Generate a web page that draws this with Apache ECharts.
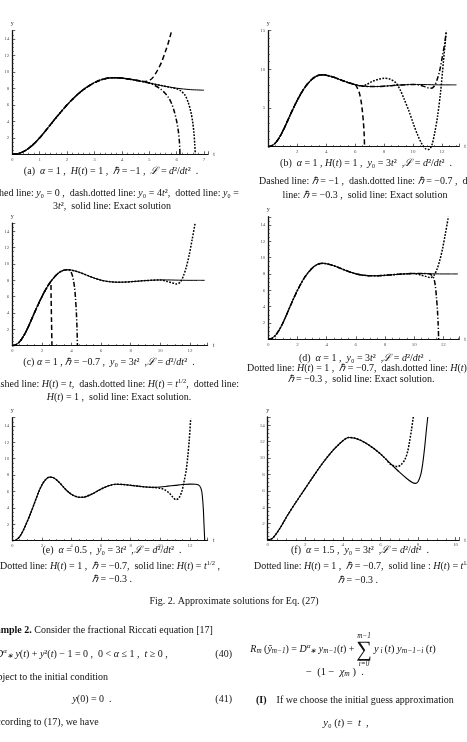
<!DOCTYPE html>
<html><head><meta charset="utf-8">
<script src="https://cdn.jsdelivr.net/npm/echarts@6/dist/echarts.min.js"></script>
<style>html,body{margin:0;padding:0;background:#fff;}#c{width:467px;height:742px;}</style>
</head><body><div id="c"></div>
<script>
// ---- data (t, y) ----
const exact1 = [[0,0],[0.25,0.12],[0.5,0.5],[0.75,1.15],[1,2.0],[1.25,3.0],[1.5,4.05],[1.75,5.05],[2,6.0],[2.25,6.85],[2.5,7.6],[2.75,8.2],[3,8.7],[3.25,9.05],[3.5,9.25],[3.75,9.3],[4,9.25],[4.5,9.0],[5,8.65],[5.5,8.3],[6,8.02],[6.5,7.85],[7,7.78],[7.5,7.78],[8,7.83],[8.5,7.9],[9,7.97],[9.5,8.02],[10,8.05],[10.5,8.05],[11,8.03],[11.5,8.01],[12,8.0],[12.5,8.0],[13,8.0]];
// panel (a)
const aDashedTail = [[4.8,8.85],[5.0,8.95],[5.15,9.4],[5.3,10.2],[5.45,11.2],[5.58,12.4],[5.7,13.6],[5.8,14.8]];
const aDashDotTail = [[5.2,8.35],[5.4,7.95],[5.55,7.5],[5.7,6.9],[5.82,6.1],[5.92,5.1],[6.0,4.0],[6.06,2.8],[6.1,1.5],[6.12,0]];
const aDottedTail = [[5.8,8.1],[6.0,7.95],[6.15,7.7],[6.3,7.2],[6.42,6.3],[6.52,5.1],[6.58,4.0],[6.63,2.6],[6.66,1.2],[6.68,0]];
// panel (b)
const bDashedTail = [[6.15,7.6],[6.3,6.9],[6.42,5.8],[6.5,4.6],[6.57,3.2],[6.62,1.8],[6.65,0]];
const bDottedTail = [[6.8,8.05],[7.2,8.45],[7.6,8.72],[8.0,8.85],[8.4,8.75],[8.8,8.3],[9.1,7.4],[9.4,6.1],[9.7,4.7],[10.0,3.1],[10.3,1.6],[10.6,0.4],[10.9,-0.3],[11.1,-0.35],[11.3,0.2],[11.5,1.8],[11.7,4.0],[11.9,7.0],[12.1,11.0],[12.3,15]];
const bDashDotTail = [[10.5,7.95],[10.9,7.7],[11.2,7.55],[11.45,7.8],[11.65,8.6],[11.85,9.9],[12.05,11.9],[12.2,13.5],[12.3,15]];
// panel (c)
const cDashedTail = [[2.6,7.85],[2.62,6.0],[2.65,3.0],[2.68,0]];
const cDashDotTail = [[3.9,9.15],[4.0,8.9],[4.1,8.3],[4.2,7.2],[4.27,5.8],[4.33,4.0],[4.37,2.2],[4.4,0]];
const cDottedTail = [[10.5,7.85],[10.8,7.7],[11.1,7.55],[11.35,7.8],[11.55,8.5],[11.75,9.6],[11.95,11.1],[12.15,13.0],[12.35,15]];
// panel (d)
const dDashDotTail = [[11.2,7.85],[11.35,7.45],[11.45,6.6],[11.53,5.2],[11.6,3.5],[11.65,1.8],[11.68,0]];
// panel (e)
const eSolid = [[0,0],[0.25,0.1],[0.5,0.5],[0.75,1.3],[1,2.3],[1.25,3.4],[1.5,4.6],[1.75,5.8],[2,6.8],[2.25,7.45],[2.5,7.75],[2.75,7.7],[3,7.4],[3.25,6.95],[3.5,6.45],[3.75,6.0],[4,5.65],[4.25,5.42],[4.5,5.3],[4.75,5.3],[5,5.4],[5.5,5.8],[6,6.3],[6.5,6.7],[7,6.88],[7.5,6.85],[8,6.75],[8.5,6.65],[9,6.55],[9.5,6.5],[10,6.55],[10.5,6.65],[11,6.75],[11.5,6.85],[12,6.9],[12.4,6.88],[12.65,6.7],[12.8,6.0],[12.9,4.0],[12.95,2.0],[13,0]];
const eDottedTail = [[10.0,6.4],[10.3,6.2],[10.6,5.8],[10.85,5.3],[11.05,5.0],[11.25,5.2],[11.45,6.0],[11.6,7.2],[11.75,8.6],[11.85,10.2],[11.95,12.2],[12.05,14.9]];
// panel (f)
const fSolid = [[0,0],[0.25,0.2],[0.5,0.9],[0.75,1.8],[1,2.8],[1.5,4.6],[2,6.3],[2.5,8.0],[3,9.6],[3.5,11.0],[4,12.1],[4.3,12.5],[4.6,12.45],[5,12.1],[5.5,11.4],[6,10.5],[6.5,9.4],[7,8.3],[7.4,7.5],[7.7,7.0],[7.85,6.9],[8,7.1],[8.15,8.0],[8.25,9.3],[8.35,11.2],[8.45,13.5],[8.52,15]];
const fDottedTail = [[6.3,9.85],[6.5,9.3],[6.7,9.05],[6.9,8.95],[7.1,9.2],[7.3,9.8],[7.45,10.8],[7.55,12.0],[7.65,13.4],[7.75,15]];

function head(arr, tmax){ return arr.filter(p => p[0] <= tmax); }

// ---- layout ----
const grids = [
  {left:12.3, top:30.7, width:195.9, height:123.6},
  {left:268.3, top:30.75, width:195.4, height:115.95},
  {left:12.3, top:223.15, width:195.4, height:122.55},
  {left:268.3, top:216.75, width:192.6, height:122.55},
  {left:12.3, top:417.7, width:195.4, height:123},
  {left:267.7, top:417, width:196.9, height:123}
];
const xCfg = [ {max:7.15, iv:1, lastLab:7, split:5, show0:true},
               {max:13.2, iv:2, lastLab:12, split:4, show0:false},
               {max:13.2, iv:2, lastLab:12, split:4, show0:true},
               {max:13.1, iv:2, lastLab:12, split:4, show0:true},
               {max:13.2, iv:2, lastLab:12, split:4, show0:true},
               {max:10.2, iv:2, lastLab:10, split:4, show0:true} ];
const yCfg = [ {iv:2, lastLab:14, split:4}, {iv:5, lastLab:15, split:5}, {iv:2, lastLab:14, split:4},
               {iv:2, lastLab:14, split:4}, {iv:2, lastLab:14, split:4}, {iv:2, lastLab:14, split:4} ];

const labFont = {fontSize:5, fontFamily:'Liberation Serif', color:'#555'};
const axLine = {show:true, onZero:false, lineStyle:{color:'#111', width:1}};

const xAxes = xCfg.map((c,i) => ({
  type:'value', gridIndex:i, min:0, max:c.max, interval:c.iv,
  axisLine:axLine, splitLine:{show:false},
  axisTick:{show:true, inside:true, length:3, lineStyle:{color:'#222', width:0.7}},
  minorTick:{show:true, splitNumber:c.split, length:1.6, lineStyle:{color:'#222', width:0.6}},
  axisLabel:{...labFont, margin:2.5, showMaxLabel:true,
    formatter: v => { if (Math.abs(v/c.iv - Math.round(v/c.iv))>1e-6 || v>c.lastLab+1e-6) return ''; if (v===0 && !c.show0) return ''; return String(v); }},
  name:'t', nameLocation:'end', nameGap:5, nameTextStyle:{fontSize:6, fontFamily:'Liberation Serif', color:'#333'}
}));
const yAxes = yCfg.map((c,i) => ({
  type:'value', gridIndex:i, min:0, max:15, interval:c.iv,
  axisLine:{show:true, onZero:false, lineStyle:{color:'#111', width:1.3}}, splitLine:{show:false},
  axisTick:{show:true, inside:true, length:3, lineStyle:{color:'#222', width:0.7}},
  minorTick:{show:true, splitNumber:c.split, length:1.6, lineStyle:{color:'#222', width:0.6}},
  axisLabel:{...labFont, margin:3,
    formatter: v => { if (v===0 || Math.abs(v/c.iv - Math.round(v/c.iv))>1e-6 || v>c.lastLab+1e-6) return ''; return String(v); }},
  name:'y', nameLocation:'end', nameGap:4, nameTextStyle:{fontSize:6, fontFamily:'Liberation Serif', color:'#333'}
}));

const DASH=[5,3], DASHDOT=[5,2,1.2,2], DOT=[1.8,1.4];
function ln(data, gi, dash, width, clip){
  return {type:'line', xAxisIndex:gi, yAxisIndex:gi, data:data, showSymbol:false, symbol:'none',
    smooth:0.3, clip: clip!==false, animation:false,
    lineStyle:{color:'#000', width:width, type: dash || 'solid'}};
}
const series = [
  ln(head(exact1,7), 0, null, 1),
  ln(head(exact1,4.6).concat(aDashedTail), 0, DASH, 1.5),
  ln(head(exact1,5).concat(aDashDotTail), 0, DASHDOT, 1.5),
  ln(head(exact1,5.5).concat(aDottedTail), 0, DOT, 1.5),

  ln(exact1, 1, null, 1),
  ln(head(exact1,6).concat(bDashedTail), 1, DASH, 1.5),
  ln(head(exact1,10).concat(bDashDotTail), 1, DASHDOT, 1.5),
  ln(head(exact1,6.5).concat(bDottedTail), 1, DOT, 1.5, false),

  ln(exact1, 2, null, 1),
  ln(head(exact1,2.5).concat(cDashedTail), 2, DASH, 1.5),
  ln(head(exact1,3.75).concat(cDashDotTail), 2, DASHDOT, 1.5),
  ln(head(exact1,10).concat(cDottedTail), 2, DOT, 1.5),

  ln(exact1, 3, null, 1),
  ln(head(exact1,10).concat(cDottedTail), 3, DOT, 1.5),
  ln(head(exact1,11).concat(dDashDotTail), 3, DASHDOT, 1.5),

  ln(eSolid, 4, null, 1.1),
  ln(head(eSolid,9.5).concat(eDottedTail), 4, DOT, 1.5),

  ln(fSolid, 5, null, 1.1),
  ln(head(fSolid,6).concat(fDottedTail), 5, DOT, 1.5)
];

// ---- text ----
const FS = 10, FF = 'Liberation Serif';
function mkRich(fs){
  return {
    i:{fontStyle:'italic', fontSize:fs, fontFamily:FF, fill:'#111', lineHeight:12},
    sup:{fontSize:fs*0.65, fontFamily:FF, fill:'#111', verticalAlign:'top', lineHeight:6},
    supi:{fontStyle:'italic', fontSize:fs*0.7, fontFamily:FF, fill:'#111', verticalAlign:'top', lineHeight:6},
    sub:{fontStyle:'italic', fontSize:fs*0.72, fontFamily:FF, fill:'#111', verticalAlign:'bottom', lineHeight:7},
    b:{fontWeight:'bold', fontSize:fs, fontFamily:FF, fill:'#111', lineHeight:12},
    big:{fontSize:22, fontFamily:FF, fill:'#111', lineHeight:22}
  };
}
function rt(s){
  return s.replace(/\*([^*]+)\*/g,'{i|$1}').replace(/\^([^\^]+)\^/g,'{sup|$1}')
          .replace(/@([^@]+)@/g,'{supi|$1}').replace(/~([^~]+)~/g,'{sub|$1}');
}
function T(s, x, y, align, size){
  const fs = size || FS;
  return {type:'text', silent:true, style:{text:rt(s), x:x, y:y, align:align||'center', verticalAlign:'middle',
    fontSize:fs, fontFamily:FF, fill:'#111', lineHeight:12, rich:mkRich(fs)}};
}
const texts = [
  T('(a)  *α* = 1 ,  *H*(*t*) = 1 ,  *ℏ* = −1 ,  *ℒ* = *d*²/*dt*²  .', 111, 171),
  T('Dashed line: *y*₀ = 0 ,  dash.dotted line: *y*₀ = 4*t*²,  dotted line: *y*₀ =', 239, 193, 'right'),
  T('3*t*²,  solid line: Exact solution', 112, 206),

  T('(b)  *α* = 1 , *H*(*t*) = 1 ,  *y*₀ = 3*t*²  ,*ℒ* = *d*²/*dt*²  .', 366, 163),
  T('Dashed line: *ℏ* = −1 ,  dash.dotted line: *ℏ* = −0.7 ,  dotted', 259, 181, 'left'),
  T('line: *ℏ* = −0.3 ,  solid line: Exact solution', 365, 195),

  T('(c) *α* = 1 , *ℏ* = −0.7 ,  *y*₀ = 3*t*²  ,*ℒ* = *d*²/*dt*²  .', 109, 362),
  T('Dashed line: *H*(*t*) = *t*,  dash.dotted line: *H*(*t*) = *t*^1/2^,  dotted line:', 239, 384, 'right'),
  T('*H*(*t*) = 1 ,  solid line: Exact solution.', 119, 397),

  T('(d)  *α* = 1 ,  *y*₀ = 3*t*²  ,*ℒ* = *d*²/*dt*²  .', 365, 358),
  T('Dotted line: *H*(*t*) = 1 ,  *ℏ* = −0.7,  dash.dotted line: *H*(*t*) = 1 ,', 247, 368, 'left'),
  T('*ℏ* = −0.3 ,  solid line: Exact solution.', 361, 379),

  T('(e)  *α* = 0.5 ,  *y*₀ = 3*t*²  ,*ℒ* = *d*²/*dt*²  .', 112, 550),
  T('Dotted line: *H*(*t*) = 1 ,  *ℏ* = −0.7,  solid line: *H*(*t*) = *t*^1/2^ ,', 110, 566),
  T('*ℏ* = −0.3 .', 112, 579),

  T('(f)  *α* = 1.5 ,  *y*₀ = 3*t*²  ,*ℒ* = *d*²/*dt*²  .', 360, 550),
  T('Dotted line: *H*(*t*) = 1 ,  *ℏ* = −0.7,  solid line : *H*(*t*) = *t*^1/2^ ,', 254, 566, 'left'),
  T('*ℏ* = −0.3 .', 358, 580),

  T('Fig. 2. Approximate solutions for Eq. (27)', 234, 601, 'center', 10),

  T('{b|Example 2.} Consider the fractional Riccati equation [17]', -16, 630, 'left', 10),
  T('*D*@α@~∗~ *y*(*t*) + *y*²(*t*) − 1 = 0 ,  0 < *α* ≤ 1 ,  *t* ≥ 0 ,', -4, 654, 'left', 10),
  T('(40)', 232, 654, 'right', 10),
  T('Subject to the initial condition', -13, 677, 'left', 10),
  T('*y*(0) = 0  .', 92, 699, 'center', 10),
  T('(41)', 232, 699, 'right', 10),
  T('According to (17), we have', -11, 722, 'left', 10),

  T('*R*~m~ (*ỹ*~m−1~) = *D*@α@~∗~ *y*~m−1~(*t*) + ', 357, 649, 'right', 10),
  T('{big|∑}', 364, 650, 'center', 10),
  T('~m−1~', 364, 636, 'center', 10),
  T('~i=0~', 364, 664, 'center', 10),
  T('*y*~ i ~(*t*) *y*~m−1−i~ (*t*)', 374, 649, 'left', 10.5),
  T('−  (1 −  *χ*~m~ )  .', 306, 672, 'left', 10.5),
  T('{b|(I)}    If we choose the initial guess approximation', 256, 700, 'left', 10),
  T('*y*₀ (*t*) =  *t*  ,', 346, 723, 'center', 10.5)
];

const chart = echarts.init(document.getElementById('c'), null, {renderer:'canvas'});
chart.setOption({
  backgroundColor:'#fff', animation:false,
  grid: grids.map(g => ({...g, containLabel:false})),
  xAxis: xAxes, yAxis: yAxes, series: series,
  graphic: texts
});
</script></body></html>
